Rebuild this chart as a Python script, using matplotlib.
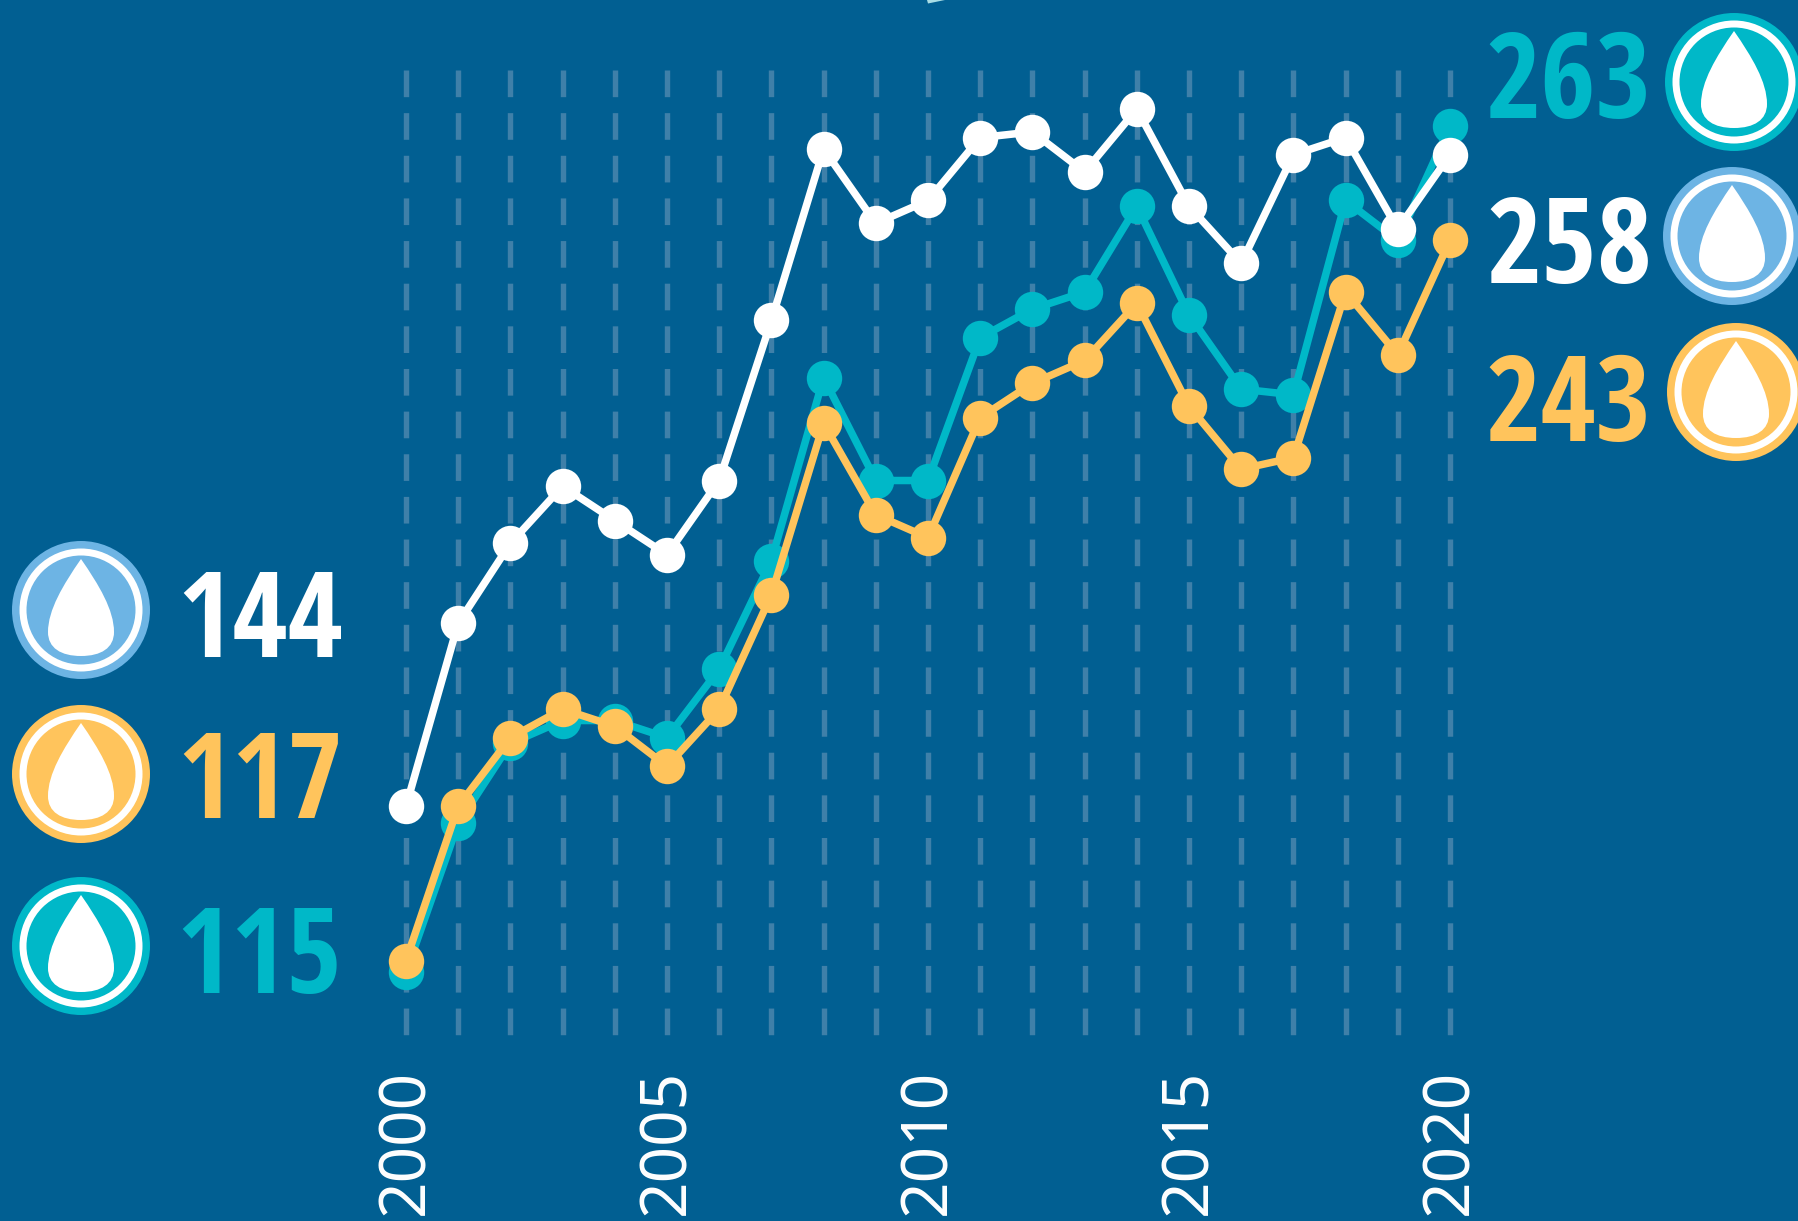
#!/usr/bin/env python3
"""Three water series 2000-2020 on a blue panel, with drop icons at both ends."""

import matplotlib
matplotlib.use('Agg')
import matplotlib.pyplot as plt
from matplotlib import font_manager as fm
from matplotlib.patches import Circle, PathPatch, Polygon
from matplotlib.path import Path
from matplotlib.transforms import blended_transform_factory

years = list(range(2000, 2021))
tick_years = [2000, 2005, 2010, 2015, 2020]

white_values = [144, 176, 190, 200, 194, 188, 201, 229, 259, 246, 250,
                261, 262, 255, 266, 249, 239, 258, 261, 245, 258]
teal_values = [115, 141, 155, 159, 159, 156, 168, 187, 219, 201, 201,
               226, 231, 234, 249, 230, 217, 216, 250, 243, 263]
orange_values = [117, 144, 156, 161, 158, 151, 161, 181, 211, 195, 191,
                 212, 218, 222, 232, 214, 203, 205, 234, 223, 243]

BG = '#015F92'
WHITE = '#FFFFFF'
TEAL = '#00B8C8'
ORANGE = '#FFC45C'
BLUE = '#6DB4E4'
GRID = '#3F80A9'

W, H = 1798, 1221
X0, X_STEP = 406, 52.2      # pixel of year 2000, pixels per year
Y115, Y_STEP = 972, 5.715   # pixel of value 115, pixels per unit

installed = {f.name for f in fm.fontManager.ttflist}


def pick_font(*names):
    # condensed faces are not on every machine, fall back to what is there
    return [n for n in names if n in installed][:1] + ['DejaVu Sans']


NUM_FONT = pick_font('Open Sans Condensed', 'PT Sans Narrow',
                     'Fira Sans Extra Condensed', 'Roboto')
TICK_FONT = pick_font('Source Sans Pro', 'Noto Sans', 'Open Sans')


def px_to_value(py):
    return 115 + (Y115 - py) / Y_STEP


def draw_icon(ax, cx, cy, color):
    # ring, white ring, filled disc, then the drop on top
    ax.add_patch(Circle((cx, cy), 69, fc=color, ec='none'))
    ax.add_patch(Circle((cx, cy), 61.5, fc=WHITE, ec='none'))
    ax.add_patch(Circle((cx, cy), 54.5, fc=color, ec='none'))
    verts = [(0, -51),
             (18, -25), (33, 0), (33, 22),
             (33, 38), (20, 46), (0, 46),
             (-20, 46), (-33, 38), (-33, 22),
             (-33, 0), (-18, -25), (0, -51)]
    codes = [Path.MOVETO] + [Path.CURVE4] * 12
    drop = Path([(cx + x, cy + y) for x, y in verts], codes)
    ax.add_patch(PathPatch(drop, fc=WHITE, ec='none'))


def main():
    plt.rcParams['lines.scale_dashes'] = False
    fig = plt.figure(figsize=(W / 100, H / 100), dpi=100, facecolor=BG)

    ax = fig.add_axes([0, 0, 1, 1], facecolor=BG)
    ax.set_xlim(2000 - X0 / X_STEP, 2000 + (W - X0) / X_STEP)
    ax.set_ylim(px_to_value(H), px_to_value(0))
    ax.axis('off')

    # Dashed year guides, drawn top to bottom so the dash phase starts at the top
    for yr in years:
        ax.plot([yr, yr], [px_to_value(70), px_to_value(1035)], color=GRID,
                lw=3.9, dashes=(19.2, 11.5), dash_capstyle='butt', zorder=1)

    for vals, col, z in [(teal_values, TEAL, 2), (orange_values, ORANGE, 3),
                         (white_values, WHITE, 4)]:
        ax.plot(years, vals, color=col, lw=5.4, marker='o', ms=25.5,
                mec='none', mfc=col, solid_joinstyle='round', zorder=z)

    trans = blended_transform_factory(ax.transData, ax.transAxes)
    for yr in tick_years:
        ax.text(yr, 1 - 1215 / H, str(yr), transform=trans, rotation=90,
                ha='center', va='bottom', color=WHITE, fontsize=46,
                family=TICK_FONT, fontweight=300, zorder=5)

    # Overlay in pixel coordinates for the icons and end labels
    over = fig.add_axes([0, 0, 1, 1], facecolor='none')
    over.set_xlim(0, W)
    over.set_ylim(H, 0)
    over.axis('off')

    over.add_patch(Polygon([(927, 0), (928, 3.5), (945, 0)], fc='#A8DDE5', ec='none'))

    for cx, cy, col in [(1734, 82, TEAL), (1732, 236, BLUE), (1736, 392, ORANGE),
                        (81, 610, BLUE), (81, 774, ORANGE), (81, 946, TEAL)]:
        draw_icon(over, cx, cy, col)

    for x, y, s, col in [(1568, 118, '263', TEAL), (1569, 283, '258', WHITE),
                         (1568, 441, '243', ORANGE), (260, 657, '144', WHITE),
                         (260, 818, '117', ORANGE), (259, 993, '115', TEAL)]:
        over.text(x, y, s, color=col, ha='center', va='baseline', fontsize=86,
                  family=NUM_FONT, fontweight='bold')

    fig.savefig('out.png', dpi=100, facecolor=BG)


if __name__ == "__main__":
    main()
